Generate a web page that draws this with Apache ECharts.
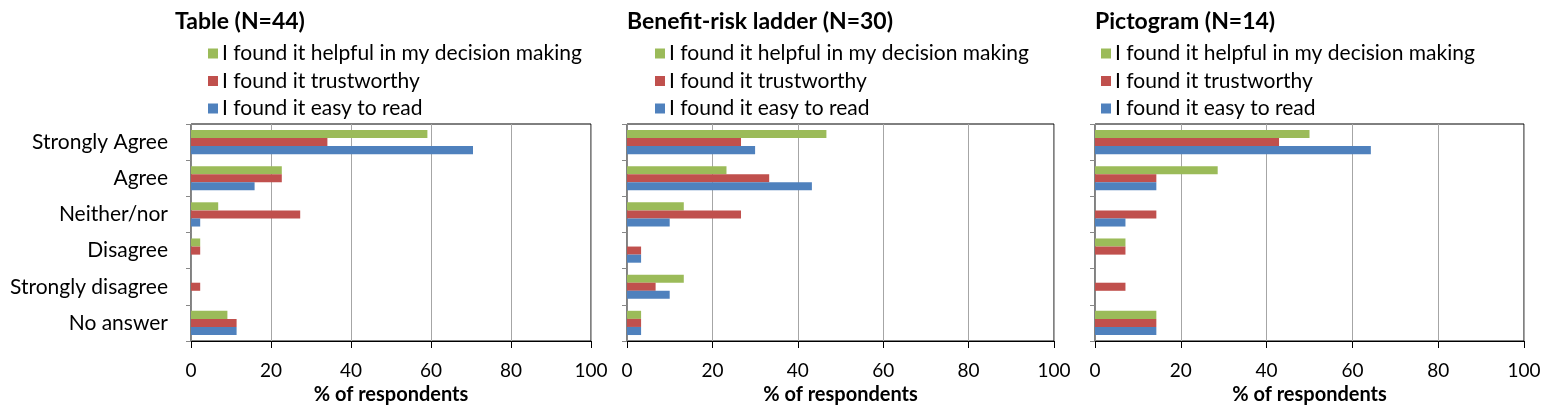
<!DOCTYPE html>
<html><head><meta charset="utf-8">
<script src="https://cdn.jsdelivr.net/npm/echarts@6/dist/echarts.min.js"></script>
<style>html,body{margin:0;padding:0;background:#fff}#c{width:1562px;height:411px}</style>
</head><body><div id="c"></div>
<script>
const categories = ["Strongly Agree","Agree","Neither/nor","Disagree","Strongly disagree","No answer"];
const seriesNames = ["I found it helpful in my decision making","I found it trustworthy","I found it easy to read"];
const colors = ["#9BBB59","#C0504D","#4F81BD"];
const xTicks = [0,20,40,60,80,100];

const panelTitles = ["Table (N=44)","Benefit-risk ladder (N=30)","Pictogram (N=14)"];
// % of respondents per panel: helpful, trustworthy, easy to read
const tableHelpful   = [59.1, 22.7, 6.8, 2.3, 0, 9.1];
const tableTrust     = [34.1, 22.7, 27.3, 2.3, 2.3, 11.4];
const tableEasy      = [70.5, 15.9, 2.3, 0, 0, 11.4];
const ladderHelpful  = [46.7, 23.3, 13.3, 0, 13.3, 3.3];
const ladderTrust    = [26.7, 33.3, 26.7, 3.3, 6.7, 3.3];
const ladderEasy     = [30.0, 43.3, 10.0, 3.3, 10.0, 3.3];
const pictoHelpful   = [50.0, 28.6, 0, 7.1, 0, 14.3];
const pictoTrust     = [42.9, 14.3, 14.3, 7.1, 7.1, 14.3];
const pictoEasy      = [64.3, 14.3, 7.1, 0, 0, 14.3];

const panelData = [
  [tableHelpful, tableTrust, tableEasy],
  [ladderHelpful, ladderTrust, ladderEasy],
  [pictoHelpful, pictoTrust, pictoEasy]
];
const layout = [
  {left:191, width:400, legendLeft:203, titleLeft:170},
  {left:627, width:427, legendLeft:650, titleLeft:622},
  {left:1095, width:429, legendLeft:1096, titleLeft:1090}
];
const FONT = "Lato, 'Noto Sans', sans-serif";
const gridTop = 124, gridHeight = 217;

const grid=[], xAxis=[], yAxis=[], series=[], title=[], legend=[];
layout.forEach((L, p) => {
  grid.push({left:L.left, width:L.width, top:gridTop, height:gridHeight, show:true, borderColor:'#000', borderWidth:1, containLabel:false});
  title.push({text:panelTitles[p], left:L.titleLeft, top:5, textStyle:{fontFamily:FONT, fontSize:23, fontWeight:'bold', color:'#000'}});
  legend.push({orient:'vertical', left:L.legendLeft, top:38, itemWidth:10, itemHeight:10, itemGap:6.5, icon:'rect', selectedMode:false,
    data:seriesNames, textStyle:{fontFamily:FONT, fontSize:21, color:'#000', padding:[0,0,0,-1]}});
  xAxis.push({type:'value', gridIndex:p, min:xTicks[0], max:xTicks[xTicks.length-1], interval:20,
    axisLine:{show:true, lineStyle:{color:'#000', width:1}},
    axisTick:{show:true, length:7, lineStyle:{color:'#000'}},
    axisLabel:{fontFamily:FONT, fontSize:19, color:'#000', margin:20},
    splitLine:{show:true, lineStyle:{color:'#A6A6A6', width:1}},
    name:'% of respondents', nameLocation:'middle', nameGap:42,
    nameTextStyle:{fontFamily:FONT, fontSize:20, fontWeight:'bold', color:'#000'}});
  yAxis.push({type:'category', gridIndex:p, data:categories, inverse:true,
    axisLine:{show:true, lineStyle:{color:'#888', width:1}},
    axisTick:{show:true, length:5, lineStyle:{color:'#888'}},
    axisLabel:{show:p===0, fontFamily:FONT, fontSize:21, color:'#000', margin:23},
    splitLine:{show:false}});
  seriesNames.forEach((n, s) => {
    series.push({type:'bar', name:n, xAxisIndex:p, yAxisIndex:p, data:panelData[p][s],
      itemStyle:{color:colors[s]}, barGap:'0%', barCategoryGap:'33%', silent:true});
  });
});

const chart = echarts.init(document.getElementById('c'), null, {renderer:'canvas'});
chart.setOption({animation:false, backgroundColor:'#fff', color:colors, title, legend, grid, xAxis, yAxis, series});
</script></body></html>
